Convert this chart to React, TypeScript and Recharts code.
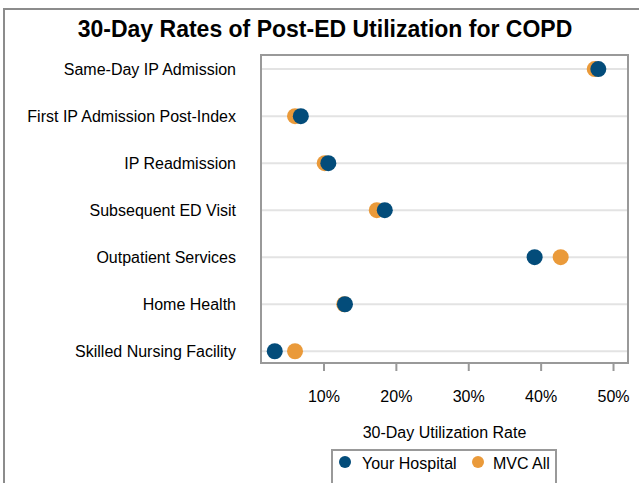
import { CartesianGrid, ReferenceArea, Scatter, ScatterChart, XAxis, YAxis } from 'recharts'

const categories = [
  'Same-Day IP Admission',
  'First IP Admission Post-Index',
  'IP Readmission',
  'Subsequent ED Visit',
  'Outpatient Services',
  'Home Health',
  'Skilled Nursing Facility',
]
const hospitalRates = [47.9, 6.8, 10.6, 18.4, 39.1, 12.9, 3.2]
const mvcRates = [47.4, 6.0, 10.1, 17.3, 42.7, 12.8, 6.0]
const xTicks = [10, 20, 30, 40, 50]
const seriesNames = ['Your Hospital', 'MVC All']

const BLUE = '#034c7a'
const ORANGE = '#ea9a3a'
const FONT = '"Liberation Sans", Arial, sans-serif'

const hospitalData = categories.map((c, i) => ({ name: c, x: hospitalRates[i], y: i }))
const mvcData = categories.map((c, i) => ({ name: c, x: mvcRates[i], y: i }))

const dot = (color: string) => (p: any) => <circle cx={p.cx} cy={p.cy} r={8} fill={color} />

function CategoryTick(props: any) {
  const { x, y, payload } = props
  return (
    <text x={x} y={y} dy="0.35em" textAnchor="end" fill="#000" fontSize={16} fontFamily={FONT}>
      {categories[payload.value]}
    </text>
  )
}

export default function App() {
  return (
    <div style={{ position: 'fixed', left: 0, top: 0, width: 639, height: 483, overflow: 'hidden', background: '#fff', fontFamily: FONT }}>
      <div style={{ position: 'absolute', left: 3, top: 8, width: 700, height: 600, border: '2px solid #8c8c8c' }} />
      <div style={{ position: 'absolute', left: 0, top: 18, width: 650, textAlign: 'center', fontSize: 23, lineHeight: '23px', fontWeight: 'bold', color: '#000' }}>
        30-Day Rates of Post-ED Utilization for COPD
      </div>
      <div style={{ position: 'absolute', left: 0, top: 0 }}>
        <ScatterChart width={639} height={483} margin={{ top: 55, right: 11, left: 0, bottom: 60 }}>
          <CartesianGrid vertical={false} stroke="#e3e3e3" strokeWidth={2} />
          <XAxis
            type="number"
            dataKey="x"
            domain={[1.3, 52]}
            ticks={xTicks}
            allowDataOverflow
            tickFormatter={v => `${v}%`}
            axisLine={false}
            tickLine={{ stroke: '#999', strokeWidth: 2 }}
            tickSize={8}
            tickMargin={20}
            height={60}
            tick={{ fill: '#000', fontSize: 16, fontFamily: FONT }}
            label={{ value: '30-Day Utilization Rate', position: 'bottom', offset: 4, fill: '#000', fontSize: 16, fontFamily: FONT }}
          />
          <YAxis
            type="number"
            dataKey="y"
            reversed
            domain={[-0.3, 6.25]}
            ticks={[0, 1, 2, 3, 4, 5, 6]}
            width={261}
            axisLine={false}
            tickLine={false}
            tickMargin={19}
            tick={<CategoryTick />}
          />
          <ReferenceArea x1={1.3} x2={52} y1={-0.3} y2={6.25} fill="none" stroke="#999" strokeWidth={2} ifOverflow="visible" />
          <Scatter name={seriesNames[1]} data={mvcData} fill={ORANGE} shape={dot(ORANGE)} isAnimationActive={false} />
          <Scatter name={seriesNames[0]} data={hospitalData} fill={BLUE} shape={dot(BLUE)} isAnimationActive={false} />
        </ScatterChart>
      </div>
      <div style={{ position: 'absolute', left: 331, top: 449, width: 222, height: 40, border: '2px solid #999', fontSize: 16, lineHeight: '16px', color: '#000' }}>
        <span style={{ position: 'absolute', left: 6, top: 5, width: 12, height: 12, borderRadius: 6, background: BLUE }} />
        <span style={{ position: 'absolute', left: 29, top: 5 }}>{seriesNames[0]}</span>
        <span style={{ position: 'absolute', left: 139, top: 5, width: 12, height: 12, borderRadius: 6, background: ORANGE }} />
        <span style={{ position: 'absolute', left: 160, top: 5 }}>{seriesNames[1]}</span>
      </div>
    </div>
  )
}
